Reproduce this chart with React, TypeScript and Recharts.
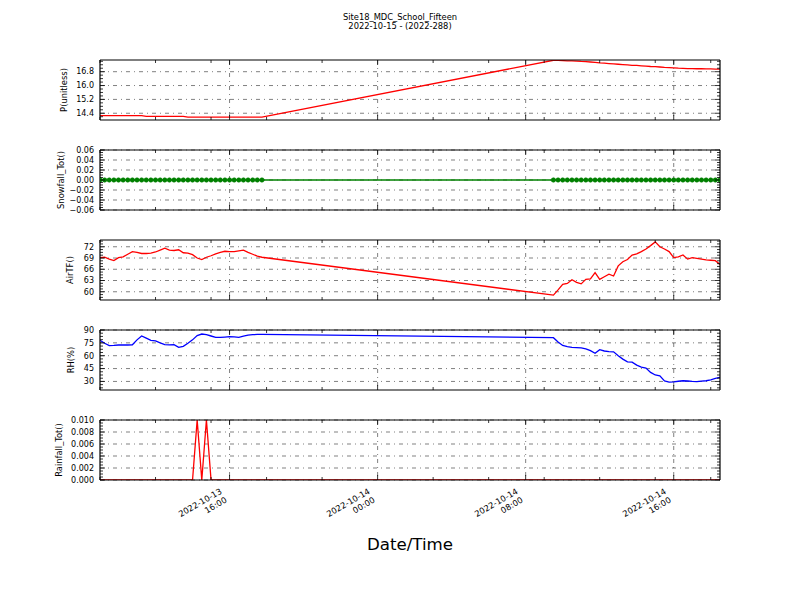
import React from "react";
import { CartesianGrid, Line, LineChart, XAxis, YAxis } from "recharts";

const FONT = "'DejaVu Sans', sans-serif";

// hours counted from 2022-10-13 00:00, one reading every 15 minutes
const hoursDay1 = [
  9, 9.25, 9.5, 9.75, 10, 10.25, 10.5, 10.75, 11, 11.25, 11.5, 11.75, 12, 12.25,
  12.5, 12.75, 13, 13.25, 13.5, 13.75, 14, 14.25, 14.5, 14.75, 15, 15.25, 15.5,
  15.75, 16, 16.25, 16.5, 16.75, 17, 17.25, 17.5, 17.75,
];
const hoursDay2 = [
  33.5, 33.75, 34, 34.25, 34.5, 34.75, 35, 35.25, 35.5, 35.75, 36, 36.25, 36.5,
  36.75, 37, 37.25, 37.5, 37.75, 38, 38.25, 38.5, 38.75, 39, 39.25, 39.5, 39.75,
  40, 40.25, 40.5, 40.75, 41, 41.25, 41.5, 41.75, 42, 42.25, 42.5,
];

const pDay1 = [
  14.26, 14.26, 14.26, 14.26, 14.26, 14.26, 14.26, 14.26, 14.26, 14.26, 14.22,
  14.22, 14.22, 14.22, 14.22, 14.22, 14.22, 14.22, 14.22, 14.18, 14.18, 14.18,
  14.18, 14.18, 14.18, 14.18, 14.18, 14.18, 14.18, 14.18, 14.18, 14.18, 14.18,
  14.18, 14.18, 14.18,
];
const pDay2 = [
  17.46, 17.45, 17.44, 17.43, 17.42, 17.41, 17.39, 17.38, 17.36, 17.34, 17.31,
  17.29, 17.27, 17.25, 17.23, 17.21, 17.19, 17.17, 17.16, 17.14, 17.12, 17.1,
  17.09, 17.07, 17.05, 17.04, 17.02, 17.0, 16.99, 16.98, 16.98, 16.97, 16.97,
  16.96, 16.96, 16.95, 16.95,
];

const snowDay1 = [
  0, 0, 0, 0, 0, 0, 0, 0, 0, 0, 0, 0, 0, 0, 0, 0, 0, 0, 0, 0, 0, 0, 0, 0, 0, 0,
  0, 0, 0, 0, 0, 0, 0, 0, 0, 0,
];
const snowDay2 = [
  0, 0, 0, 0, 0, 0, 0, 0, 0, 0, 0, 0, 0, 0, 0, 0, 0, 0, 0, 0, 0, 0, 0, 0, 0, 0,
  0, 0, 0, 0, 0, 0, 0, 0, 0, 0, 0,
];

const airDay1 = [
  69.1, 69.2, 68.7, 68.3, 69.1, 69.3, 70.0, 70.7, 70.5, 70.2, 70.2, 70.3, 70.6,
  71.1, 71.6, 71.1, 71.0, 71.2, 70.4, 70.3, 69.9, 69.0, 68.6, 69.2, 69.6, 70.1,
  70.5, 70.8, 70.7, 70.7, 70.9, 71.1, 70.5, 70.0, 69.5, 69.2,
];
const airDay2 = [
  59.1, 60.5, 62.0, 62.2, 63.2, 62.5, 62.1, 63.3, 63.4, 65.1, 63.3, 64.0, 64.7,
  64.2, 66.9, 68.0, 68.6, 69.8, 70.1, 70.7, 71.4, 72.3, 73.3, 72.0, 71.4, 70.7,
  69.1, 69.3, 69.8, 68.7, 69.1, 68.9, 68.7, 68.5, 68.4, 68.3, 67.3,
];

const rhDay1 = [
  78.0, 74.5, 71.8, 72.0, 72.5, 72.6, 72.5, 72.8, 78.5, 83.0, 80.5, 78.0, 77.3,
  75.0, 73.0, 72.7, 73.0, 69.8, 71.0, 74.5, 78.5, 83.5, 85.3, 84.5, 83.0, 81.5,
  81.3, 81.8, 82.2, 82.0, 81.5, 82.8, 84.0, 84.5, 84.8, 85.0,
];
const rhDay2 = [
  81.0, 76.0, 72.0, 70.5, 69.7, 69.5, 69.2, 68.0, 66.0, 62.8, 67.0, 65.5, 64.7,
  64.5, 60.0, 56.0, 52.8, 52.5, 49.0, 46.8, 45.5, 40.5, 37.5, 36.5, 30.5, 29.3,
  29.5, 30.2, 30.8, 30.5, 30.0, 29.7, 30.3, 30.8, 31.8, 33.5, 34.8,
];

const rainDay1 = [
  0, 0, 0, 0, 0, 0, 0, 0, 0, 0, 0, 0, 0, 0, 0, 0, 0, 0, 0, 0, 0, 0.01, 0, 0.01,
  0, 0, 0, 0, 0, 0, 0, 0, 0, 0, 0, 0,
];
const rainDay2 = [
  0, 0, 0, 0, 0, 0, 0, 0, 0, 0, 0, 0, 0, 0, 0, 0, 0, 0, 0, 0, 0, 0, 0, 0, 0, 0,
  0, 0, 0, 0, 0, 0, 0, 0, 0, 0, 0,
];

const X_DOMAIN: [number, number] = [9, 42.5];
const xMajor = [16, 24, 32, 40];
const xMinor = [9, 12, 15, 18, 21, 24, 27, 30, 33, 36, 39, 42];
const xTickDates = ["2022-10-13", "2022-10-14", "2022-10-14", "2022-10-14"];
const xTickTimes = ["16:00", "00:00", "08:00", "16:00"];

const pTicks = [14.4, 15.2, 16.0, 16.8];
const snowTicks = [-0.06, -0.04, -0.02, 0, 0.02, 0.04, 0.06];
const airTicks = [60, 63, 66, 69, 72];
const rhTicks = [30, 45, 60, 75, 90];
const rainTicks = [0, 0.002, 0.004, 0.006, 0.008, 0.01];

// plot box inside each panel's svg
const PL = 100;
const PR = 720;
const PT = 30;
const PB = 90;
const CH = 140;
const MAJOR_LEN = 5;
const MINOR_LEN = 3;

function steps(lo: number, hi: number, step: number) {
  const out: number[] = [];
  for (let i = Math.ceil(lo / step - 1e-9); i * step <= hi + 1e-9; i++) {
    out.push(+(i * step).toFixed(6));
  }
  return out;
}

const near = (list: number[], v: number) =>
  list.findIndex((m) => Math.abs(m - v) < 1e-7);

const minus = (s: string) => s.replace("-", "\u2212");

const panels = [
  {
    label: "P(unitless)",
    top: 60,
    labelX: 67,
    day1: pDay1,
    day2: pDay2,
    domain: [14.01, 17.475] as [number, number],
    major: pTicks,
    minorStep: 0.2,
    color: "#ff0000",
    fmt: (v: number) => v.toFixed(1),
  },
  {
    label: "Snowfall_Tot()",
    top: 150,
    labelX: 63.7,
    day1: snowDay1,
    day2: snowDay2,
    domain: [-0.06, 0.06] as [number, number],
    major: snowTicks,
    minorStep: 0.005,
    color: "#008000",
    dots: true,
    fmt: (v: number) => minus(v.toFixed(2)),
  },
  {
    label: "AirTF()",
    top: 240,
    labelX: 73,
    day1: airDay1,
    day2: airDay2,
    domain: [57.8, 73.8] as [number, number],
    major: airTicks,
    minorStep: 0.75,
    color: "#ff0000",
    fmt: (v: number) => String(Math.round(v)),
  },
  {
    label: "RH(%)",
    top: 330,
    labelX: 73.5,
    day1: rhDay1,
    day2: rhDay2,
    domain: [20, 90] as [number, number],
    major: rhTicks,
    minorStep: 3.75,
    color: "#0000ff",
    fmt: (v: number) => String(Math.round(v)),
  },
  {
    label: "Rainfall_Tot()",
    top: 420,
    labelX: 61.8,
    day1: rainDay1,
    day2: rainDay2,
    domain: [0, 0.01] as [number, number],
    major: rainTicks,
    minorStep: 0.0005,
    color: "#ff0000",
    fmt: (v: number) => v.toFixed(3),
  },
];

const xAllTicks = Array.from(new Set([...xMinor, ...xMajor])).sort((a, b) => a - b);

function xTick(side: "bottom" | "top", labels: boolean) {
  return (props: any) => {
    const { x, payload } = props;
    const idx = near(xMajor, payload.value);
    const len = idx >= 0 ? MAJOR_LEN : MINOR_LEN;
    const y0 = side === "bottom" ? PB : PT;
    const y1 = side === "bottom" ? PB - len : PT + len;
    return (
      <g>
        <line x1={x} x2={x} y1={y0} y2={y1} stroke="#000" strokeWidth={0.8} />
        {labels && idx >= 0 && (
          <g transform={`translate(${x - 7},${PB + 13}) rotate(-30)`}>
            <text textAnchor="end" fontSize={8.33} fontFamily={FONT} fill="#000">
              <tspan x={0} y={0}>
                {xTickDates[idx]}
              </tspan>
              <tspan x={0} y={10}>
                {xTickTimes[idx]}
              </tspan>
            </text>
          </g>
        )}
      </g>
    );
  };
}

function yTick(side: "left" | "right", major: number[], fmt: (v: number) => string) {
  return (props: any) => {
    const { y, payload } = props;
    const isMajor = near(major, payload.value) >= 0;
    const len = isMajor ? MAJOR_LEN : MINOR_LEN;
    const x0 = side === "left" ? PL : PR;
    const x1 = side === "left" ? PL + len : PR - len;
    return (
      <g>
        <line x1={x0} x2={x1} y1={y} y2={y} stroke="#000" strokeWidth={0.8} />
        {side === "left" && isMajor && (
          <text
            x={PL - 6}
            y={y}
            dy="0.35em"
            textAnchor="end"
            fontSize={8}
            fontFamily={FONT}
            fill="#000"
          >
            {fmt(payload.value)}
          </text>
        )}
      </g>
    );
  };
}

const FRAME = { stroke: "#000", strokeWidth: 1.2 };

function Panel({ p, last }: { p: (typeof panels)[number]; last: boolean }) {
  const rows = [
    ...hoursDay1.map((t, i) => ({ t, v: p.day1[i] })),
    ...hoursDay2.map((t, i) => ({ t, v: p.day2[i] })),
  ];
  const yTicks = Array.from(
    new Set([...steps(p.domain[0], p.domain[1], p.minorStep), ...p.major])
  ).sort((a, b) => a - b);
  return (
    <div style={{ position: "absolute", left: 0, top: p.top - PT }}>
      <LineChart
        width={800}
        height={CH}
        data={rows}
        margin={{ top: PT - 1, right: 800 - PR - 1, bottom: CH - PB - 1, left: PL - 1 }}
      >
        <CartesianGrid
          xAxisId="b"
          yAxisId="l"
          horizontalValues={p.major}
          verticalValues={xMajor}
          stroke="#000"
          strokeWidth={0.5}
          strokeDasharray="4 4 1 4"
        />
        <XAxis
          xAxisId="b"
          dataKey="t"
          type="number"
          domain={X_DOMAIN}
          allowDataOverflow
          ticks={xAllTicks}
          interval={0}
          height={1}
          axisLine={FRAME}
          tickLine={false}
          tick={xTick("bottom", last)}
        />
        <XAxis
          xAxisId="t"
          orientation="top"
          dataKey="t"
          type="number"
          domain={X_DOMAIN}
          allowDataOverflow
          ticks={xAllTicks}
          interval={0}
          height={1}
          axisLine={FRAME}
          tickLine={false}
          tick={xTick("top", false)}
        />
        <YAxis
          yAxisId="l"
          type="number"
          domain={p.domain}
          allowDataOverflow
          ticks={yTicks}
          interval={0}
          width={1}
          axisLine={FRAME}
          tickLine={false}
          tick={yTick("left", p.major, p.fmt)}
        />
        <YAxis
          yAxisId="r"
          orientation="right"
          type="number"
          domain={p.domain}
          allowDataOverflow
          ticks={yTicks}
          interval={0}
          width={1}
          axisLine={FRAME}
          tickLine={false}
          tick={yTick("right", p.major, p.fmt)}
        />
        <Line
          xAxisId="b"
          yAxisId="l"
          type="linear"
          dataKey="v"
          stroke={p.color}
          strokeWidth={1.3}
          dot={
            p.dots
              ? { r: 2.2, fill: p.color, stroke: p.color, strokeWidth: 0.6 }
              : false
          }
          isAnimationActive={false}
        />
      </LineChart>
    </div>
  );
}

export default function App() {
  return (
    <div
      style={{
        position: "absolute",
        left: 0,
        top: 0,
        width: 800,
        height: 600,
        background: "#fff",
        overflow: "hidden",
      }}
    >
      {panels.map((p, i) => (
        <Panel key={p.label} p={p} last={i === panels.length - 1} />
      ))}
      <svg
        width={800}
        height={600}
        style={{ position: "absolute", left: 0, top: 0, pointerEvents: "none" }}
      >
        <text x={400} y={20} textAnchor="middle" fontSize={8.33} fontFamily={FONT}>
          Site18_MDC_School_Fifteen
        </text>
        <text x={400} y={29} textAnchor="middle" fontSize={8.33} fontFamily={FONT}>
          2022-10-15 - (2022-288)
        </text>
        {panels.map((p) => (
          <text
            key={p.label}
            transform={`translate(${p.labelX},${p.top + 30}) rotate(-90)`}
            textAnchor="middle"
            fontSize={8.33}
            fontFamily={FONT}
          >
            {p.label}
          </text>
        ))}
        <text x={410} y={550} textAnchor="middle" fontSize={16.67} fontFamily={FONT}>
          Date/Time
        </text>
      </svg>
    </div>
  );
}
